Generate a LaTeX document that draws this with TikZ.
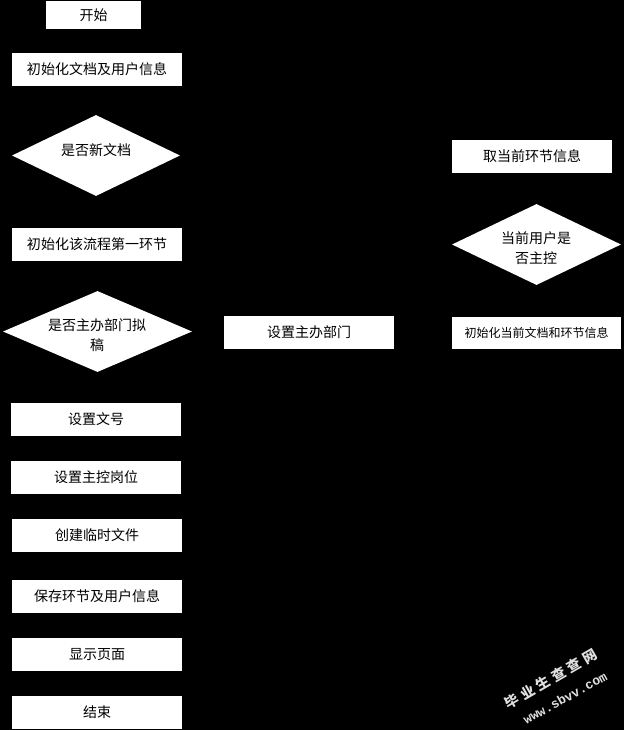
\documentclass[tikz,border=0pt]{standalone}
\usepackage{fontspec}
\newfontfamily\cjk{Noto Sans CJK SC}
\newfontfamily\wmmono{Liberation Mono}
\usetikzlibrary{shapes.geometric}
\tikzset{
  box/.style={fill=white, inner sep=0pt, minimum width=170pt, minimum height=33pt,
    font=\cjk\fontsize{14pt}{20pt}\selectfont, text=black},
  dshape/.style={diamond, fill=white, inner sep=0pt, aspect=1},
  dtext/.style={inner sep=0pt, align=center, font=\cjk\fontsize{14pt}{20pt}\selectfont, text=black},
  wm/.style={text=white!88!black, inner sep=0pt}
}
\begin{document}
\begin{tikzpicture}[x=1pt,y=-1pt]
\fill[black] (0,0) rectangle (624,730);
\useasboundingbox (0,0) rectangle (624,730);
% left column
\node[box, minimum width=95pt, minimum height=28pt] (start) at (93.5,15) {开始};
\node[box] (init) at (97,69.5) {初始化文档及用户信息};
\node[dshape, minimum width=168pt, minimum height=81pt] (d1) at (96,155.5) {};
\node[dtext] (d1t) at (96,150) {是否新文档};
\node[box] (first) at (97,244.5) {初始化该流程第一环节};
\node[dshape, minimum width=189pt, minimum height=81pt] (d2) at (97.5,331.5) {};
\node[dtext] (d2t) at (97,335) {是否主办部门拟\\稿};
\node[box] (wenhao) at (96,419.5) {设置文号};
\node[box] (gangwei) at (96,477.5) {设置主控岗位};
\node[box] (temp) at (97,535.5) {创建临时文件};
\node[box] (save) at (97,596.5) {保存环节及用户信息};
\node[box] (show) at (97,654.5) {显示页面};
\node[box] (end) at (97,712.5) {结束};
% middle
\node[box] (zhuban) at (309,332.5) {设置主办部门};
% right column
\node[box, minimum width=160pt] (cur) at (532,156.5) {取当前环节信息};
\node[dshape, minimum width=169pt, minimum height=81pt] (d3) at (536.5,244.5) {};
\node[dtext] (d3t) at (536,248) {当前用户是\\否主控};
\node[box, minimum width=169pt, minimum height=32pt, font=\cjk\fontsize{12pt}{16pt}\selectfont] (initcur) at (536.5,333) {初始化当前文档和环节信息};
% watermark
\node[wm, rotate=30, font=\cjk\bfseries\fontsize{14pt}{16pt}\selectfont] (wm1) at (551,679) {毕\hspace{4pt}业\hspace{4pt}生\hspace{4pt}查\hspace{4pt}查\hspace{4pt}网};
\node[wm, rotate=29, font=\wmmono\bfseries\fontsize{13pt}{15pt}\selectfont] (wm2) at (565,698) {www.sbvv.com};
\end{tikzpicture}
\end{document}
